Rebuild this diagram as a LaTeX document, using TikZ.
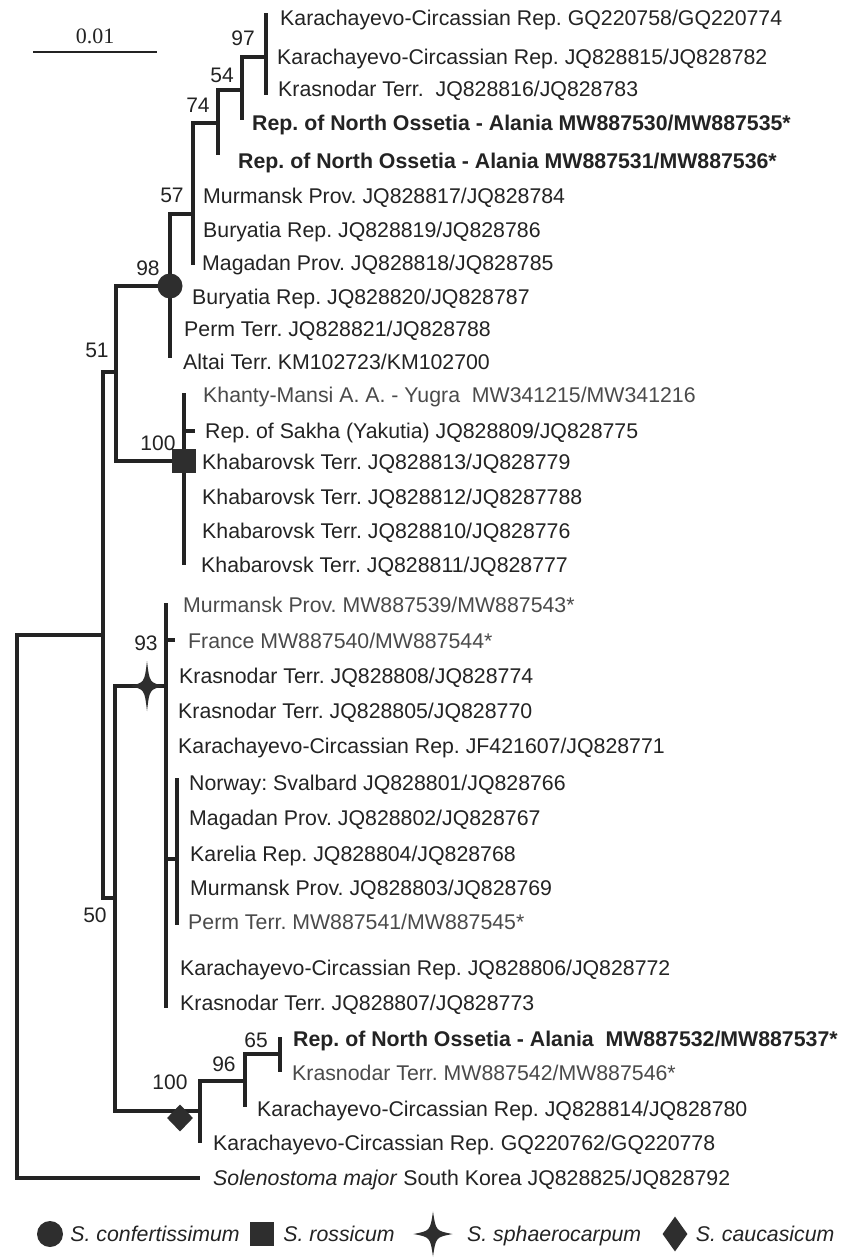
\documentclass[tikz,border=0pt]{standalone}
\usepackage{fontspec}
\setmainfont{Liberation Sans}
\newfontfamily\barfont{Liberation Serif}
\usepackage{xcolor}
\usetikzlibrary{positioning,shapes.geometric}

\definecolor{inkgray}{HTML}{232323}
\definecolor{lightink}{HTML}{4A4A4A}
\definecolor{markgray}{HTML}{2E2E2E}

\tikzset{
    fourstar/.pic={
        \fill[markgray] (0,-25) .. controls (2.5,-3.5) .. (17,0) .. controls (2.5,3.5) .. (0,25)
            .. controls (-2.5,3.5) .. (-17,0) .. controls (-2.5,-3.5) .. cycle;
    }
}

\begin{document}
\frenchspacing
\begin{tikzpicture}[
    x=1pt, y=-1pt,
    branch/.style={line width=3.3pt, draw=inkgray},
    scalebar/.style={line width=1.4pt, draw=inkgray},
    leaf/.style={anchor=west, inner sep=0pt, text=inkgray, text height=15.2pt, text depth=0pt,
        font=\fontsize{21.3}{24}\selectfont},
    newleaf/.style={leaf, text=lightink},
    boldleaf/.style={leaf, font=\fontsize{21.3}{24}\selectfont\bfseries},
    support/.style={inner sep=0pt, text=inkgray, font=\fontsize{21}{24}\selectfont},
    legtext/.style={anchor=west, inner sep=0pt, text=inkgray, text height=15.2pt, text depth=0pt,
        font=\fontsize{21.3}{24}\selectfont\itshape},
    circmark/.style={circle, fill=markgray, inner sep=0pt, minimum size=25pt},
    sqmark/.style={rectangle, fill=markgray, inner sep=0pt, minimum size=24pt},
    diamark/.style={diamond, fill=markgray, inner sep=0pt, minimum width=26pt, minimum height=27pt}
]
    \fill[white] (0,0) rectangle (842,1257);
    \useasboundingbox (0,0) rectangle (842,1257);

    % scale bar
    \coordinate (sb1) at (33,52);
    \coordinate (sb2) at (157,52);
    \draw[scalebar] (sb1) -- node[above=7pt, inner sep=0pt, text=inkgray, font=\barfont\fontsize{22}{24}\selectfont] (sbl) {0.01} (sb2);

    % internal nodes and tips
    \coordinate (n97) at (266,57);
    \coordinate (t758) at (266,13);
    \coordinate (t816) at (266,95);
    \coordinate (n54) at (242,90);
    \coordinate (t530) at (242,120);
    \coordinate (n74) at (218,123);
    \coordinate (t531) at (218,155);
    \coordinate (n57) at (193,214);
    \coordinate (t818) at (193,265);
    \coordinate (n98) at (170,286);
    \coordinate (t723) at (170,358);
    \coordinate (n100r) at (184,461);
    \coordinate (t215) at (184,393);
    \coordinate (t809) at (195,431);
    \coordinate (t811) at (184,565);
    \coordinate (n51) at (116,372);
    \coordinate (n93) at (166,686);
    \coordinate (t539) at (166,603);
    \coordinate (t540) at (175,640);
    \coordinate (t807) at (166,1008);
    \coordinate (nsv) at (177,859);
    \coordinate (t801) at (177,778);
    \coordinate (t541) at (177,925);
    \coordinate (n65) at (280,1054);
    \coordinate (t532) at (280,1037);
    \coordinate (t542) at (280,1072);
    \coordinate (n96) at (245,1081);
    \coordinate (t814) at (245,1107);
    \coordinate (n100c) at (200,1111);
    \coordinate (t762) at (200,1143);
    \coordinate (n50) at (115,898);
    \coordinate (nmid) at (103,635);
    \coordinate (root) at (17,906);
    \coordinate (t825) at (200,1178);

    % branches
    \draw[branch] (n97) |- (t758) (n97) |- (t816);
    \draw[branch] (n54) |- (n97) (n54) |- (t530);
    \draw[branch] (n74) |- (n54) (n74) |- (t531);
    \draw[branch] (n57) |- (n74) (n57) |- (t818);
    \draw[branch] (n98) |- (n57) (n98) |- (t723);
    \draw[branch] (n100r) |- (t215) (n100r) |- (t811) (n100r) |- (t809);
    \draw[branch] (n51) |- (n98) (n51) |- (n100r);
    \draw[branch] (n93) |- (t539) (n93) |- (t807) (n93) |- (t540) (n93) |- (nsv);
    \draw[branch] (nsv) |- (t801) (nsv) |- (t541);
    \draw[branch] (n65) |- (t532) (n65) |- (t542);
    \draw[branch] (n96) |- (n65) (n96) |- (t814);
    \draw[branch] (n100c) |- (n96) (n100c) |- (t762);
    \draw[branch] (n50) |- (n93) (n50) |- (n100c);
    \draw[branch] (nmid) |- (n51) (nmid) |- (n50);
    \draw[branch] (root) |- (nmid) (root) |- (t825);

    % clade marks
    \node[circmark] (m98) at (n98) {};
    \node[sqmark] (m100r) at (n100r) {};
    \pic at (147,686) {fourstar};
    \node[diamark] (m100c) at (180,1118) {};

    % support values
    \node[support] (s97) at (243,38) {97};
    \node[support] (s54) at (222,75) {54};
    \node[support] (s74) at (198,105) {74};
    \node[support] (s57) at (172,195) {57};
    \node[support] (s98) at (148,268) {98};
    \node[support] (s51) at (97,350) {51};
    \node[support] (s100r) at (158,443) {100};
    \node[support] (s93) at (146,643) {93};
    \node[support] (s50) at (95,915) {50};
    \node[support] (s65) at (256,1040) {65};
    \node[support] (s96) at (224,1064) {96};
    \node[support] (s100c) at (170,1082) {100};

    % leaves
    \node[leaf] (l758) at (280,18) {Karachayevo-Circassian Rep. GQ220758/GQ220774};
    \node[leaf] (l815) at (277,57) {Karachayevo-Circassian Rep. JQ828815/JQ828782};
    \node[leaf] (l816) at (278,89) {Krasnodar Terr.\ \ JQ828816/JQ828783};
    \node[boldleaf] (l530) at (252,123) {Rep. of North Ossetia - Alania MW887530/MW887535*};
    \node[boldleaf] (l531) at (238,161) {Rep. of North Ossetia - Alania MW887531/MW887536*};
    \node[leaf] (l817) at (203,196) {Murmansk Prov. JQ828817/JQ828784};
    \node[leaf] (l819) at (203,230) {Buryatia Rep. JQ828819/JQ828786};
    \node[leaf] (l818) at (202,263) {Magadan Prov. JQ828818/JQ828785};
    \node[leaf] (l820) at (192,297) {Buryatia Rep. JQ828820/JQ828787};
    \node[leaf] (l821) at (184,329) {Perm Terr. JQ828821/JQ828788};
    \node[leaf] (l723) at (183,362) {Altai Terr. KM102723/KM102700};
    \node[newleaf] (l215) at (203,395) {Khanty-Mansi A. A. - Yugra\ \ MW341215/MW341216};
    \node[leaf] (l809) at (205,431) {Rep. of Sakha (Yakutia) JQ828809/JQ828775};
    \node[leaf] (l813) at (202,462) {Khabarovsk Terr. JQ828813/JQ828779};
    \node[leaf] (l812) at (202,497) {Khabarovsk Terr. JQ828812/JQ8287788};
    \node[leaf] (l810) at (202,531) {Khabarovsk Terr. JQ828810/JQ828776};
    \node[leaf] (l811) at (201,565) {Khabarovsk Terr. JQ828811/JQ828777};
    \node[newleaf] (l539) at (183,605) {Murmansk Prov. MW887539/MW887543*};
    \node[newleaf] (l540) at (188,641) {France MW887540/MW887544*};
    \node[leaf] (l808) at (179,676) {Krasnodar Terr. JQ828808/JQ828774};
    \node[leaf] (l805) at (178,711) {Krasnodar Terr. JQ828805/JQ828770};
    \node[leaf] (l607) at (178,746) {Karachayevo-Circassian Rep. JF421607/JQ828771};
    \node[leaf] (l801) at (189,783) {Norway: Svalbard JQ828801/JQ828766};
    \node[leaf] (l802) at (189,818) {Magadan Prov. JQ828802/JQ828767};
    \node[leaf] (l804) at (190,854) {Karelia Rep. JQ828804/JQ828768};
    \node[leaf] (l803) at (190,888) {Murmansk Prov. JQ828803/JQ828769};
    \node[newleaf] (l541) at (188,922) {Perm Terr. MW887541/MW887545*};
    \node[leaf] (l806) at (180,968) {Karachayevo-Circassian Rep. JQ828806/JQ828772};
    \node[leaf] (l807) at (180,1003) {Krasnodar Terr. JQ828807/JQ828773};
    \node[boldleaf] (l532) at (293,1039) {Rep. of North Ossetia - Alania\ \ MW887532/MW887537*};
    \node[newleaf] (l542) at (292,1073) {Krasnodar Terr. MW887542/MW887546*};
    \node[leaf] (l814) at (257,1109) {Karachayevo-Circassian Rep. JQ828814/JQ828780};
    \node[leaf] (l762) at (213,1143) {Karachayevo-Circassian Rep. GQ220762/GQ220778};
    \node[leaf] (l825) at (213,1178) {\textit{Solenostoma major} South Korea JQ828825/JQ828792};

    % legend
    \node[circmark, minimum size=26pt] (lgcirc) at (50,1234) {};
    \node[legtext, right=7pt of lgcirc] (lgconf) {S. confertissimum};
    \node[sqmark] (lgsq) at (262,1234) {};
    \node[legtext, right=9pt of lgsq] (lgross) {S. rossicum};
    \pic[xscale=1.15, yscale=0.9] at (433,1234) {fourstar};
    \node[legtext] (lgsph) at (467,1234) {S. sphaerocarpum};
    \node[diamark, minimum height=35pt, minimum width=25pt] (lgdia) at (675,1234) {};
    \node[legtext, right=8pt of lgdia] (lgcauc) {S. caucasicum};
\end{tikzpicture}
\end{document}
